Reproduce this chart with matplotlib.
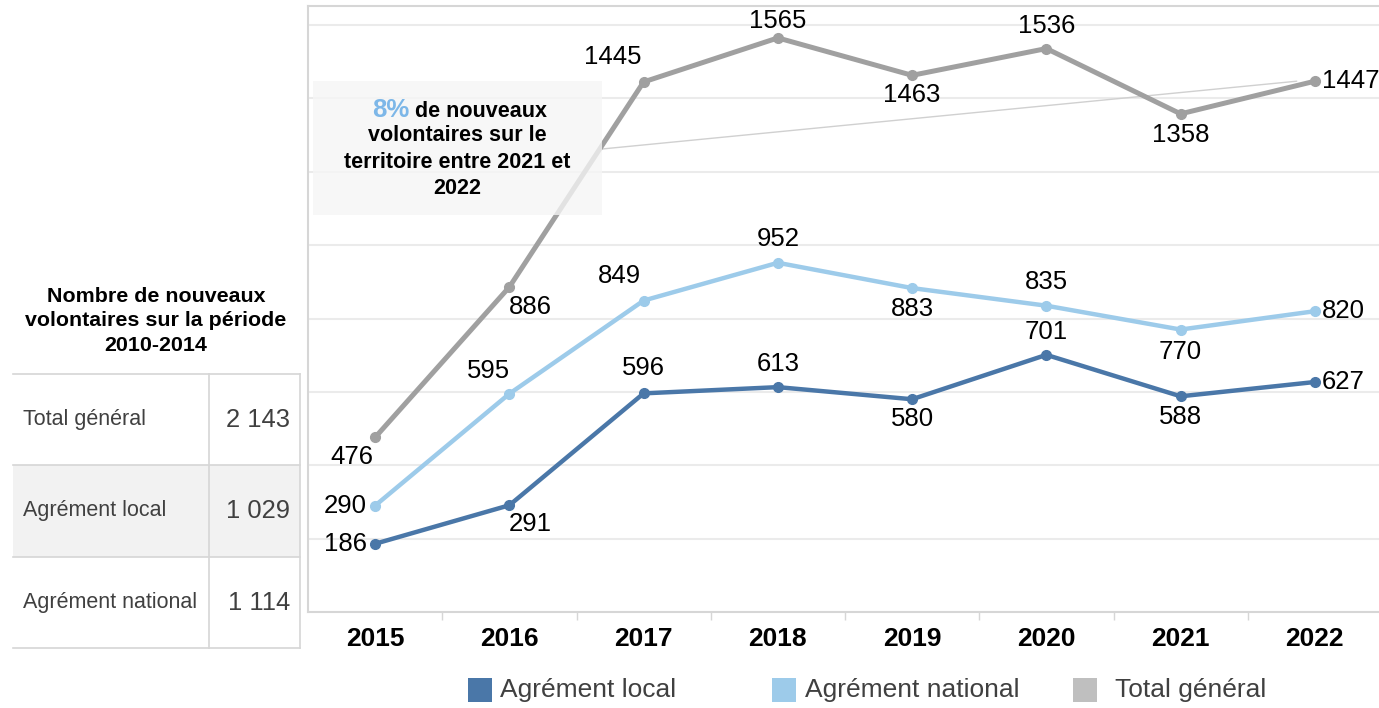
import matplotlib
matplotlib.use("Agg")
import matplotlib.pyplot as plt
from matplotlib.patches import Rectangle, ConnectionPatch
from matplotlib.lines import Line2D

plt.rcParams['font.family'] = ['Liberation Sans', 'DejaVu Sans']

# --- data ---
years = ["2015", "2016", "2017", "2018", "2019", "2020", "2021", "2022"]
local = [186, 291, 596, 613, 580, 701, 588, 627]
national = [290, 595, 849, 952, 883, 835, 770, 820]
total = [476, 886, 1445, 1565, 1463, 1536, 1358, 1447]
series_names = ["Agrément local", "Agrément national", "Total général"]

table_title = "Nombre de nouveaux\nvolontaires sur la période\n2010-2014"
table_rows = ["Total général", "Agrément local", "Agrément national"]
table_vals = ["2 143", "1 029", "1 114"]

# --- styles ---
c_local = '#4a77a8'
c_nat = '#9dcbea'
c_tot = '#a0a0a0'
legend_cols = [c_local, c_nat, '#bfbfbf']
txt = '#404040'
edge = '#d6d6d6'

W, H = 1379, 708
def fx(px):
    return px / W
def fy(py):
    return 1 - py / H

fig = plt.figure(figsize=(W / 100, H / 100), dpi=100)
fig.patch.set_facecolor('white')
ax = fig.add_axes([fx(308), fy(612), (1382 - 308) / W, (612 - 6) / H])
ax.patch.set_alpha(0)

x = range(len(years))
ax.plot(x, total, color=c_tot, lw=3.6, marker='o', ms=7, zorder=3)
ax.plot(x, national, color=c_nat, lw=3.2, marker='o', ms=7, zorder=3)
ax.plot(x, local, color=c_local, lw=3.2, marker='o', ms=7, zorder=4)

# label offsets in pixels (dx, dy, ha)
off_tot = [(-23, -20, 'center'), (21, -20, 'center'), (-31, 25, 'center'), (0, 17, 'center'),
           (0, -20, 'center'), (0, 23, 'center'), (0, -21, 'center'), (7, 0, 'left')]
off_nat = [(-8, 0, 'right'), (-21, 23, 'center'), (-24, 25, 'center'), (0, 24, 'center'),
           (0, -21, 'center'), (0, 24, 'center'), (0, -22, 'center'), (7, 0, 'left')]
off_loc = [(-8, 0, 'right'), (21, -19, 'center'), (0, 25, 'center'), (0, 23, 'center'),
           (0, -20, 'center'), (0, 23, 'center'), (0, -21, 'center'), (7, 0, 'left')]
for vals, offs in ((total, off_tot), (national, off_nat), (local, off_loc)):
    for i, (v, (dx, dy, ha)) in enumerate(zip(vals, offs)):
        ax.annotate(str(v), (i, v), xytext=(dx, dy), textcoords='offset pixels',
                    ha=ha, va='center', fontsize=18.5, color='black', zorder=6)

ax.set_xlim(-0.5, len(years) - 0.5)
ax.set_ylim(0, 1652)
ax.set_yticks(range(0, 1601, 200))
ax.yaxis.grid(True, color='#ebebeb', lw=1.5)
ax.set_axisbelow(True)
ax.tick_params(axis='y', length=0, labelleft=False)
ax.set_xticks(list(x))
ax.set_xticklabels(years, fontsize=19, fontweight='bold')
ax.set_xticks([i + 0.5 for i in range(len(years) - 1)], minor=True)
ax.tick_params(axis='x', which='major', length=0, pad=11)
ax.tick_params(axis='x', which='minor', length=6, color=edge, width=1)
for s in ['left', 'top', 'bottom']:
    ax.spines[s].set_color(edge)
    ax.spines[s].set_linewidth(1.5)
ax.spines['right'].set_visible(False)

# --- annotation box ---
fig.add_artist(Rectangle((fx(313), fy(215)), fx(602) - fx(313), fy(81) - fy(215),
                         transform=fig.transFigure, facecolor='#f6f6f6', alpha=0.78,
                         edgecolor='none', zorder=3))
con = ConnectionPatch(xyA=(fx(602), fy(149)), coordsA=fig.transFigure,
                      xyB=(len(years) - 1 - 0.135, total[-1]), coordsB=ax.transData,
                      color='#d0d0d0', lw=1, zorder=1)
ax.add_artist(con)
fig.text(fx(409), fy(117), "8%", ha='right', va='baseline', fontsize=18.5, fontweight='bold',
         color='#7db7e8', zorder=5)
fig.text(fx(415), fy(117), "de nouveaux", ha='left', va='baseline', fontsize=15.5,
         fontweight='bold', color='black', zorder=5)
fig.text(fx(457), fy(162), "volontaires sur le\nterritoire entre 2021 et\n2022", ha='center',
         va='center', fontsize=15.5, fontweight='bold', color='black', linespacing=1.32, zorder=5)

# --- table on the left ---
fig.text(fx(156), fy(321), table_title, ha='center', va='center', fontsize=15.4,
         fontweight='bold', color='black', linespacing=1.38)
row_top = [374, 465, 557]
row_h = 91.5
fig.add_artist(Rectangle((fx(13), fy(557)), fx(300) - fx(13), fy(465) - fy(557),
                         transform=fig.transFigure, facecolor='#f2f2f2', edgecolor='none', zorder=0))
for yy in row_top + [648]:
    fig.add_artist(Line2D([fx(13), fx(300)], [fy(yy), fy(yy)], color=edge, lw=1.2))
fig.add_artist(Line2D([fx(209), fx(209)], [fy(374), fy(648)], color=edge, lw=1.2))
fig.add_artist(Line2D([fx(300), fx(300)], [fy(374), fy(648)], color=edge, lw=1.2))
for t, name, val in zip(row_top, table_rows, table_vals):
    yc = t + row_h / 2
    fig.text(fx(23), fy(yc), name, ha='left', va='center', fontsize=15.5, color=txt)
    fig.text(fx(290), fy(yc), val, ha='right', va='center', fontsize=18.4, color=txt)

# --- legend ---
sw_x = [468, 772, 1073]
tx_x = [500, 805, 1115]
for name, col, sx, tx in zip(series_names, legend_cols, sw_x, tx_x):
    fig.add_artist(Rectangle((fx(sx), fy(702)), fx(24), fy(678) - fy(702),
                             transform=fig.transFigure, facecolor=col, edgecolor='none'))
    fig.text(fx(tx), fy(690), name, ha='left', va='center', fontsize=19, color=txt)

fig.savefig("out.png", dpi=100)
